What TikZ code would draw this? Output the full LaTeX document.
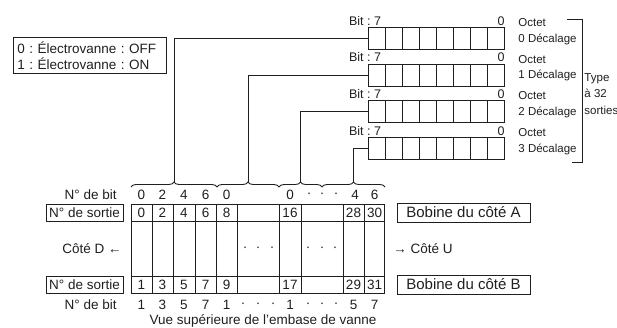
\documentclass[tikz,border=0pt]{standalone}
\usepackage{fontspec}
\setmainfont{Liberation Sans}
\usetikzlibrary{decorations.pathreplacing}
\frenchspacing
\begin{document}
\begin{tikzpicture}[x=1pt,y=-1pt, line width=0.9pt, color=black!88,
  every node/.style={inner sep=0pt, font=\fontsize{13.5}{15}\selectfont},
  bytebox/.style={draw, minimum width=136pt, minimum height=22pt, anchor=north west},
  small/.style={font=\fontsize{11.5}{16.5}\selectfont},
  bitlbl/.style={font=\fontsize{12.5}{14}\selectfont},
  brc/.style={decorate, decoration={brace, amplitude=5pt}},
  hdrbox/.style={draw, minimum width=77pt, minimum height=17pt},
  coilbox/.style={draw, minimum width=133pt, minimum height=19pt, font=\fontsize{15}{17}\selectfont}]
\useasboundingbox (0,0) rectangle (617,327);

% legend
\node[draw, anchor=north west, inner xsep=4pt, align=left, text width=145pt,
      minimum height=36pt, font=\fontsize{13.5}{16}\selectfont] (legend) at (13,37)
  {0 : Électrovanne : OFF\\1 : Électrovanne : ON};

% byte boxes
\foreach \k/\t in {0/27,1/63.5,2/100,3/137}{
  \node[bytebox] (b\k) at (368,\t) {};
  \foreach \i in {1,...,7} \draw (368+17*\i,\t) -- (368+17*\i,\t+22);
  \node[bitlbl, anchor=base] (bit7\k) at (365,\t-2) {Bit : 7};
  \node[bitlbl, anchor=base] (bit0\k) at (501,\t-2) {0};
  \node[small, anchor=west] (oct\k) at (518,\t-4) {Octet};
  \node[small, anchor=west] (dec\k) at (518,\t+12) {\k\ Décalage};
}

% right bracket
\draw (567,19) -- (582,19) -- (582,162) -- (572,162);
\node[small, anchor=west, align=left] (type) at (584,94) {Type\\à 32\\sorties};

% table
\draw (131,204) rectangle (384,293);
\draw (131,221) -- (384,221);
\draw (131,276) -- (384,276);
\foreach \x in {152,173,195,216,237,279,301,343,364} \draw (\x,204) -- (\x,293);

\foreach \x/\a/\b [count=\n] in {141.5/0/1,162.5/2/3,184/4/5,205.5/6/7,226.5/8/9,290/16/17,353.5/28/29,374.5/30/31}{
  \node (ta\n) at (\x,212.5) {\a};
  \node (tb\n) at (\x,284.5) {\b};
}

% middle dots
\foreach \x [count=\n] in {245,258,272,308,322,335}
  \node (md\n) at (\x,249) {·};

% header boxes
\node[hdrbox] (sa) at (84.5,212.5) {N° de sortie};
\node[hdrbox] (sb) at (84.5,284.5) {N° de sortie};
\node[coilbox] (ca) at (463.5,212.5) {Bobine du côté A};
\node[coilbox] (cb) at (463.5,284.5) {Bobine du côté B};

\node[anchor=east] (cd) at (122,249) {Côté D ←};
\node[anchor=west] (cu) at (393,249) {→ Côté U};

% bit numbers
\node[anchor=east] (nbt) at (117,195) {N° de bit};
\node[anchor=east] (nbb) at (117,305) {N° de bit};
\foreach \x/\v [count=\n] in {141.5/0,162.5/2,184/4,205.5/6,226.5/0,290/0,309/·,322/·,336/·,355/4,374.5/6}
  \node (bt\n) at (\x,195) {\v};
\foreach \x/\v [count=\n] in {141.5/1,162.5/3,184/5,205.5/7,226.5/1,243/·,258/·,273/·,290/1,308/·,322/·,336/·,353.5/5,374.5/7}
  \node (bb\n) at (\x,305) {\v};

% braces
\draw[brc] (131,187) -- (217,187);
\draw[brc] (217,187) -- (279,187);
\draw[brc] (279,187) -- (322,187);
\draw[brc] (322,187) -- (385,187);
\coordinate (t0) at (174,182);
\coordinate (t1) at (248,182);
\coordinate (t2) at (300.5,182);
\coordinate (t3) at (353.5,182);
\foreach \k in {0,1,2,3} \draw (t\k) |- (b\k.west);

\node (vue) at (263,321) {Vue supérieure de l’embase de vanne};
\end{tikzpicture}
\end{document}
